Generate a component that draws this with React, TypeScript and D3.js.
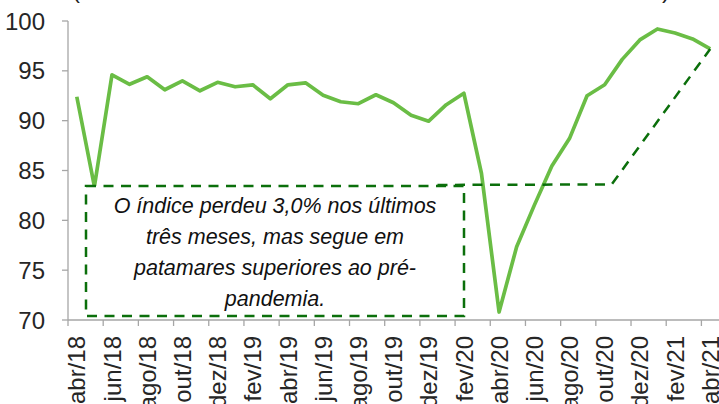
import React from "react";
import * as d3 from "d3";

const months = ["abr", "mai", "jun", "jul", "ago", "set", "out", "nov", "dez", "jan", "fev", "mar"];
const categories: string[] = [];
for (let k = 0; k < 37; k++) {
  const m = (3 + k) % 12;
  const yr = 18 + Math.floor((3 + k) / 12);
  categories.push(`${months[(m + 9) % 12]}/${yr}`);
}

const values = [
  92.4, 83.4, 94.6, 93.65, 94.4, 93.1, 94.0, 93.0, 93.85, 93.4, 93.6, 92.2,
  93.6, 93.8, 92.55, 91.9, 91.7, 92.6, 91.8, 90.55, 89.95, 91.6, 92.75,
  84.7, 70.8, 77.35, 81.5, 85.45, 88.2, 92.5, 93.6, 96.15, 98.1, 99.2, 98.8, 98.2, 97.2,
];

// dashed reference path: (category position, value)
const refPos = [20.5, 30.4, 36];
const refVal = [83.55, 83.6, 97.2];

const yTicks = [70, 75, 80, 85, 90, 95, 100];

const noteLines = [
  "O índice perdeu 3,0% nos últimos",
  "três meses, mas segue em",
  "patamares superiores ao pré-",
  "pandemia.",
];

const W = 719;
const H = 404;
const left = 68;
const right = 719;
const top = 21;
const bottom = 320;

export default function App() {
  const x = d3.scaleBand<string>().domain(categories).range([left, right]).padding(0);
  const xPos = d3.scaleLinear().domain([-0.5, categories.length - 0.5]).range([left, right]);
  const y = d3.scaleLinear().domain([70, 100]).range([bottom, top]);

  const line = d3
    .line<number>()
    .x((_, i) => (x(categories[i]) as number) + x.bandwidth() / 2)
    .y((d) => y(d));

  const refLine = d3
    .line<number>()
    .x((_, i) => xPos(refPos[i]))
    .y((d) => y(d));

  const tickIdx = categories.map((_, i) => i).filter((i) => i % 2 === 0);

  const font = "'Liberation Sans', Arial, sans-serif";
  const axisColor = "#a6a6a6";
  const dashColor = "#0b6f0b";

  const box = { x0: 86, y0: 186, x1: 464, y1: 316 };

  return (
    <svg
      width={W}
      height={H}
      style={{ position: "absolute", left: 0, top: 0, background: "#fff" }}
      fontFamily={font}
    >
      {/* title remnants (cropped) */}
      <text x={72} y={-2} fontSize={24} fill="#222">(</text>
      <text x={662} y={-2} fontSize={24} fill="#222">)</text>

      {/* y axis */}
      <line x1={left} x2={left} y1={top} y2={bottom} stroke={axisColor} strokeWidth={1.3} />
      {yTicks.map((t) => (
        <g key={t}>
          <line x1={left - 6} x2={left} y1={y(t)} y2={y(t)} stroke={axisColor} strokeWidth={1.3} />
          <text x={45} y={y(t)} dy="0.36em" textAnchor="end" fontSize={24} fill="#262626">
            {t}
          </text>
        </g>
      ))}

      {/* x axis */}
      <line x1={left} x2={right} y1={bottom} y2={bottom} stroke={axisColor} strokeWidth={1.3} />
      {tickIdx.map((i) => {
        const tx = x(categories[i]) as number;
        const cx = tx + x.bandwidth() / 2;
        return (
          <g key={i}>
            <line x1={tx} x2={tx} y1={bottom} y2={bottom + 6} stroke={axisColor} strokeWidth={1.3} />
            <text
              transform={`translate(${cx},${336}) rotate(-90)`}
              dy="0.36em"
              textAnchor="end"
              fontSize={24}
              fill="#262626"
            >
              {categories[i]}
            </text>
          </g>
        );
      })}

      {/* main series */}
      <path
        d={line(values) || ""}
        fill="none"
        stroke="#6abd45"
        strokeWidth={3.7}
        strokeLinejoin="round"
      />

      {/* annotation box */}
      <rect
        x={box.x0}
        y={box.y0}
        width={box.x1 - box.x0}
        height={box.y1 - box.y0}
        fill="#fff"
        stroke={dashColor}
        strokeWidth={2.5}
        strokeDasharray="10 7.5"
      />
      {noteLines.map((l, i) => (
        <text
          key={i}
          x={(box.x0 + box.x1) / 2}
          y={213 + i * 31}
          textAnchor="middle"
          fontSize={21.5}
          fontStyle="italic"
          fill="#111"
        >
          {l}
        </text>
      ))}

      {/* dashed reference */}
      <path
        d={refLine(refVal) || ""}
        fill="none"
        stroke={dashColor}
        strokeWidth={2.5}
        strokeDasharray="10 7.5"
      />
    </svg>
  );
}
